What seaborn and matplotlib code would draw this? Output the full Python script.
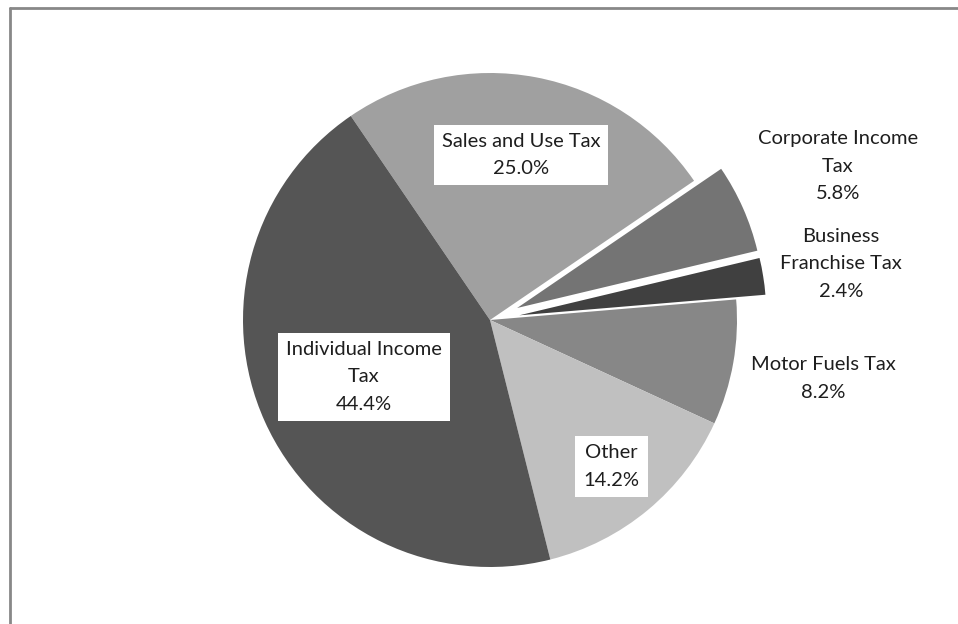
import numpy as np
import seaborn as sns
import matplotlib.pyplot as plt
from matplotlib.lines import Line2D

# Revenue shares (percent), listed clockwise starting from Sales and Use Tax
categories = ['Sales and Use Tax', 'Corporate Income\nTax', 'Business\nFranchise Tax',
              'Motor Fuels Tax', 'Other', 'Individual Income\nTax']
shares = [25.0, 5.8, 2.4, 8.2, 14.2, 44.4]

colors = ['#a0a0a0', '#747474', '#404040', '#878787', '#c0c0c0', '#555555']
explode_frac = [0, 0.12, 0.12, 0, 0, 0]
# radial label position (fraction of radius) and whether the label sits in a white box
label_dist = [0.68, 1.54, 1.44, 1.37, 0.77, 0.56]
boxed = [True, False, False, False, True, True]

sns.set_style('white')
plt.rcParams['font.family'] = ['Lato', 'DejaVu Sans']

W, H = 958, 624
fig = plt.figure(figsize=(W / 100, H / 100), dpi=100)
ax = fig.add_axes([0, 0, 1, 1])

cx, cy, R = 490, H - 320, 247
wedges, _ = ax.pie(shares, colors=colors, explode=[e * R for e in explode_frac],
                   startangle=124.3, counterclock=False, radius=R, center=(cx, cy),
                   wedgeprops=dict(linewidth=0), frame=True)
ax.set_xlim(0, W)
ax.set_ylim(0, H)
ax.set_aspect('equal')
ax.axis('off')

for w, name, val, d, b in zip(wedges, categories, shares, label_dist, boxed):
    mid = np.deg2rad((w.theta1 + w.theta2) / 2)
    x = cx + d * R * np.cos(mid)
    y = cy + d * R * np.sin(mid)
    bbox = dict(boxstyle='square,pad=0.4', fc='white', ec='none') if b else None
    ax.text(x, y, f'{name}\n{val:.1f}%', ha='center', va='center', fontsize=14.5,
            color='#1e1e1e', linespacing=1.75, bbox=bbox)

# chart frame (only left and top edges visible)
fig.add_artist(Line2D([9.5 / W, 9.5 / W], [0, 1 - 7.5 / H], transform=fig.transFigure,
                      color='#888888', lw=2))
fig.add_artist(Line2D([9.5 / W, 1], [1 - 7.5 / H, 1 - 7.5 / H], transform=fig.transFigure,
                      color='#888888', lw=2))

fig.savefig('out.png', dpi=100)
